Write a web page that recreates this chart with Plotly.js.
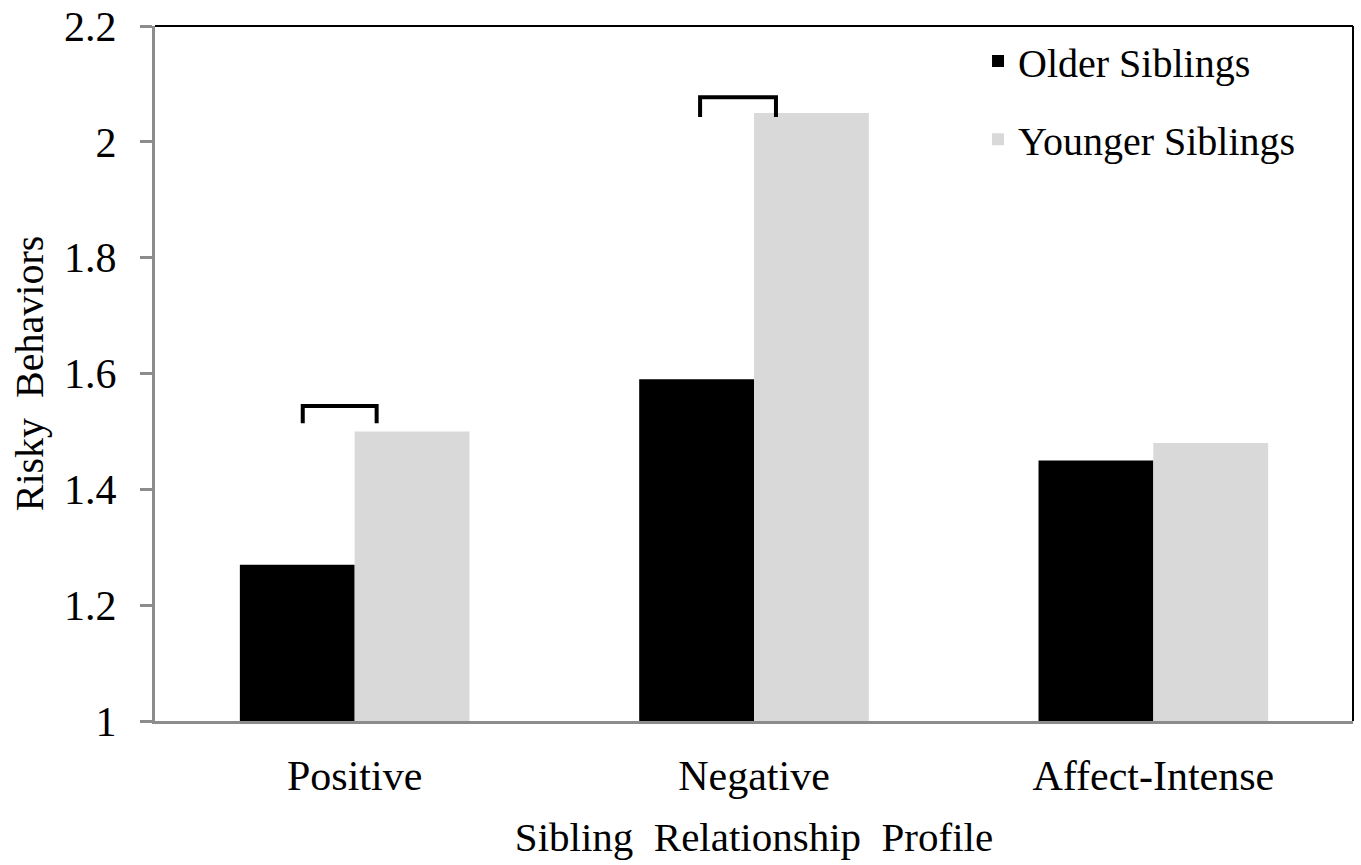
<!DOCTYPE html>
<html>
<head>
<meta charset="utf-8">
<script src="https://cdn.plot.ly/plotly-3.0.1.min.js"></script>
<style>html,body{margin:0;padding:0;background:#fff;}#chart{width:1361px;height:865px;}</style>
</head>
<body>
<div id="chart"></div>
<script>
// ---- data ----
const categories = ["Positive", "Negative", "Affect-Intense"];
const olderSiblings = [1.27, 1.59, 1.45];
const youngerSiblings = [1.50, 2.05, 1.48];
const yTickValues = [1, 1.2, 1.4, 1.6, 1.8, 2, 2.2];
const yTickLabels = ["1", "1.2", "1.4", "1.6", "1.8", "2", "2.2"];
// significance brackets: category index, left/right offset within category, top and leg-bottom values
const bracketCategoryIndex = [0, 1];
const bracketLeftOffset = [-0.13, -0.135];
const bracketRightOffset = [0.055, 0.055];
const bracketTop = [1.544, 2.077];
const bracketBottom = [1.514, 2.043];

const FONT = '"Liberation Serif", "Times New Roman", serif';

const traces = [
  {type: 'bar', name: 'Older Siblings', x: categories, y: olderSiblings,
   marker: {color: '#000000'}, legend: 'legend', hoverinfo: 'x+y'},
  {type: 'bar', name: 'Younger Siblings', x: categories, y: youngerSiblings,
   marker: {color: '#d9d9d9'}, legend: 'legend2', hoverinfo: 'x+y'}
];

const shapes = [];
// frame: top and right borders
shapes.push({type: 'line', xref: 'paper', yref: 'paper', x0: 0, x1: 1, y0: 1, y1: 1, line: {color: '#000', width: 2}});
shapes.push({type: 'line', xref: 'paper', yref: 'paper', x0: 1, x1: 1, y0: 0, y1: 1, line: {color: '#000', width: 2}});
for (let i = 0; i < bracketCategoryIndex.length; i++) {
  const c = bracketCategoryIndex[i];
  shapes.push({type: 'path', xref: 'x', yref: 'y',
    path: 'M ' + (c + bracketLeftOffset[i]) + ',' + bracketBottom[i] +
          ' L ' + (c + bracketLeftOffset[i]) + ',' + bracketTop[i] +
          ' L ' + (c + bracketRightOffset[i]) + ',' + bracketTop[i] +
          ' L ' + (c + bracketRightOffset[i]) + ',' + bracketBottom[i],
    line: {color: '#000', width: 4}});
}

const layout = {
  width: 1361, height: 865,
  margin: {l: 155, r: 8, t: 26, b: 144},
  paper_bgcolor: '#fff', plot_bgcolor: '#fff',
  font: {family: FONT, color: '#000', size: 42},
  barmode: 'group', bargap: 0.425, bargroupgap: 0,
  showlegend: true,
  legend: {x: 0.687, y: 0.9496, xanchor: 'left', yanchor: 'middle',
           bgcolor: 'rgba(0,0,0,0)', font: {family: FONT, size: 40, color: '#000'}},
  legend2: {x: 0.687, y: 0.837, xanchor: 'left', yanchor: 'middle',
           bgcolor: 'rgba(0,0,0,0)', font: {family: FONT, size: 40, color: '#000'}},
  xaxis: {
    type: 'category', showgrid: false, zeroline: false,
    showline: true, linecolor: '#8c8c8c', linewidth: 3,
    ticks: '', ticklabelstandoff: 16,
    tickfont: {family: FONT, size: 42, color: '#000'},
    title: {text: 'Sibling\u00a0\u00a0Relationship\u00a0\u00a0Profile', font: {family: FONT, size: 41, color: '#000'}, standoff: 24}
  },
  yaxis: {
    range: [1, 2.2], showgrid: false, zeroline: false,
    showline: true, linecolor: '#8c8c8c', linewidth: 3,
    ticks: 'outside', ticklen: 12, tickwidth: 3, tickcolor: '#8c8c8c',
    tickvals: yTickValues, ticktext: yTickLabels, ticklabelstandoff: 15,
    tickfont: {family: FONT, size: 42, color: '#000'},
    title: {text: 'Risky\u00a0\u00a0Behaviors', font: {family: FONT, size: 40, color: '#000'}, standoff: 9}
  },
  shapes: shapes
};

Plotly.newPlot('chart', traces, layout, {displayModeBar: false, staticPlot: true});
</script>
</body>
</html>
